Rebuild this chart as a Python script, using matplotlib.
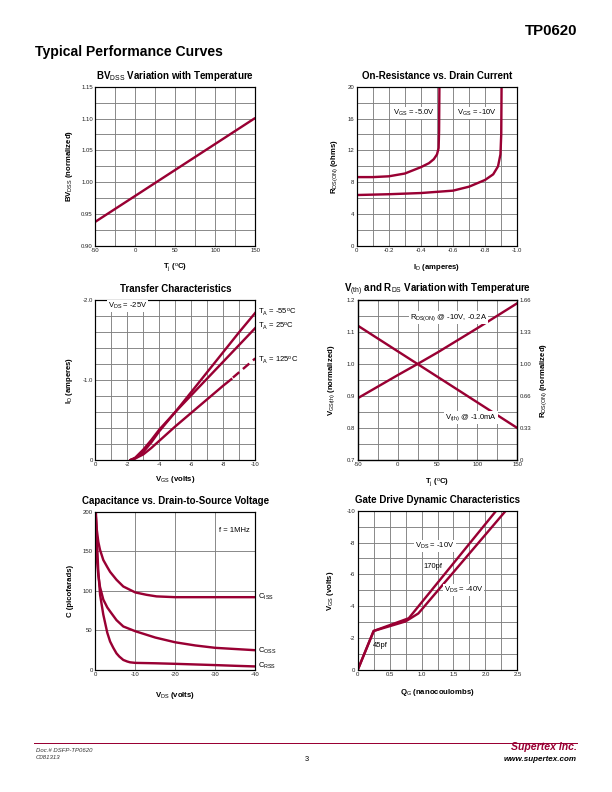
import matplotlib
matplotlib.use('Agg')
import matplotlib.pyplot as plt
import numpy as np

plt.rcParams['font.family'] = ['Liberation Sans', 'DejaVu Sans']
plt.rcParams['mathtext.fontset'] = 'custom'
plt.rcParams['mathtext.rm'] = 'Liberation Sans'
plt.rcParams['mathtext.it'] = 'Liberation Sans:italic'
plt.rcParams['mathtext.bf'] = 'Liberation Sans:bold'
plt.rcParams['mathtext.default'] = 'regular'

RED = '#990033'
GRID = '#808080'
LW = 2.4

# ---------------- data ----------------
# BVdss vs temperature
bv_temp = [-50, 150]
bv_norm = [0.938, 1.101]

# On-resistance vs drain current
ron_id_5v = [0, -0.1, -0.2, -0.3, -0.4, -0.45, -0.48, -0.5, -0.51, -0.513, -0.515]
ron_r_5v = [8.65, 8.65, 8.75, 9.1, 9.9, 10.4, 10.9, 11.5, 12.3, 14.5, 20]
ron_id_10v = [0, -0.2, -0.4, -0.6, -0.7, -0.8, -0.85, -0.88, -0.895, -0.9, -0.902]
ron_r_10v = [6.4, 6.5, 6.65, 6.95, 7.45, 8.3, 9.0, 10.0, 11.5, 14, 20]

# Transfer characteristics
tr_vgs = [-2.2, -2.5, -3, -3.5, -4, -5, -6, -7, -8, -9, -10]
tr_id_m55 = [0, -0.02, -0.1, -0.22, -0.36, -0.6, -0.85, -1.1, -1.35, -1.6, -1.84]
tr_id_25 = [0, -0.03, -0.13, -0.25, -0.38, -0.6, -0.81, -1.02, -1.23, -1.44, -1.65]
tr_vgs_125 = [-2.2, -2.5, -3, -3.5, -4, -4.5, -5, -6, -7, -8, -8.5]
tr_id_125 = [0, -0.02, -0.07, -0.15, -0.24, -0.33, -0.42, -0.59, -0.76, -0.93, -1.01]
tr_vgs_125_dash = [-8.6, -10]
tr_id_125_dash = [-1.03, -1.27]

# Vth and Rds vs temperature
vt_temp = [-50, 25, 150]
vt_norm = [1.12, 1.0, 0.80]
rds_temp = [-50, 0, 25, 50, 100, 150]
rds_norm = [0.893, 0.965, 1.0, 1.036, 1.112, 1.19]
rds_right_ticks = [0, 0.33, 0.66, 1.00, 1.33, 1.66]

# Capacitance vs VDS
ciss_v = [-0.05, -0.33, -0.75, -1.17, -2, -3, -3.7, -5.3, -7, -10, -12.8, -15.3, -20, -30, -40]
ciss_c = [200, 179, 162, 152, 139, 130, 124, 114, 105.5, 98, 95, 93, 92, 92, 92]
coss_v = [-0.1, -0.33, -0.75, -1.17, -2, -3, -3.7, -5.3, -7, -10, -15, -20, -25, -30, -35, -40]
coss_c = [200, 145, 120, 105, 89, 79, 74, 63, 55, 49, 41, 35, 31, 28, 26.5, 25]
crss_v = [-0.15, -0.4, -0.75, -1.2, -2, -3, -3.7, -4.5, -5.3, -6, -7, -8, -8.7, -10, -12,
          -15, -20, -25, -30, -35, -40]
crss_c = [200, 165, 124, 95, 70, 47, 36, 28, 21, 17, 12.7, 10.7, 9.7, 9, 8.8, 8.5, 7.8, 7,
          6.2, 5.3, 4.5]

# Gate drive
gd_q_10 = [0, 0.25, 0.8, 2.17]
gd_v_10 = [0, -2.45, -3.25, -10]
gd_q_40 = [0, 0.25, 0.75, 0.95, 2.32]
gd_v_40 = [0, -2.45, -3.05, -3.55, -10]

# ---------------- figure ----------------
fig = plt.figure(figsize=(8.5, 11), dpi=72)
W, H = 612.0, 792.0


def add_ax(l, t, r, b):
    return fig.add_axes([l / W, 1 - b / H, (r - l) / W, (b - t) / H])


TICK_FS = 6
LABEL_FS = 7.8
TITLE_FS = 9.7
TXT_FS = 7.6


def style(ax, xlim, ylim, xticks, yticks, xgrid, ygrid, xfmt, yfmt, title,
          xlabel, ylabel, xl_y, yl_x):
    ax.set_xlim(*xlim)
    ax.set_ylim(*ylim)
    ax.set_xticks(xgrid, minor=True)
    ax.set_yticks(ygrid, minor=True)
    ax.set_xticks(xticks)
    ax.set_yticks(yticks)
    ax.set_xticklabels([xfmt(v) for v in xticks])
    ax.set_yticklabels([yfmt(v) for v in yticks])
    ax.grid(True, which='both', color=GRID, lw=0.9)
    ax.set_axisbelow(True)
    ax.tick_params(which='both', length=0, labelsize=TICK_FS, pad=2.5,
                   labelcolor='#222222')
    for s in ax.spines.values():
        s.set_linewidth(1.2)
        s.set_color('black')
    ax.set_title(title, fontsize=TITLE_FS, fontweight='bold', pad=7.5)
    ax.set_xlabel(xlabel, fontsize=LABEL_FS, fontweight='bold')
    ax.set_ylabel(ylabel, fontsize=LABEL_FS, fontweight='bold', va='center', ha='center')
    ax.xaxis.set_label_coords(0.5, xl_y)
    ax.yaxis.set_label_coords(yl_x, 0.5)


BOX = dict(facecolor='white', edgecolor='none', pad=1.0)

# Panel 1
ax1 = add_ax(95.3, 86.7, 255.3, 246)
ax1.plot(bv_temp, bv_norm, color=RED, lw=LW, solid_capstyle='butt')
style(ax1, (-50, 150), (0.90, 1.15), [-50, 0, 50, 100, 150],
      [0.90, 0.95, 1.00, 1.05, 1.10, 1.15], np.arange(-50, 151, 25),
      np.arange(0.90, 1.151, 0.025), lambda v: f'{v:g}', lambda v: f'{v:.2f}',
      r'BV$_{\rm DSS}$ Variation with Temperature', r'T$_{\rm j}$ ($^{\rm o}$C)',
      r'BV$_{\rm DSS}$ (normalized)', -0.098, -0.1625)

# Panel 2
ax2 = add_ax(356.7, 86.7, 517.3, 246)
ax2.plot(ron_id_5v, ron_r_5v, color=RED, lw=LW)
ax2.plot(ron_id_10v, ron_r_10v, color=RED, lw=LW)
style(ax2, (0, -1.0), (0, 20), [0, -0.2, -0.4, -0.6, -0.8, -1.0],
      [0, 4, 8, 12, 16, 20], np.arange(0, -1.01, -0.1), np.arange(0, 20.1, 2),
      lambda v: '0' if v == 0 else f'{v:.1f}', lambda v: f'{v:g}',
      'On-Resistance vs. Drain Current', r'I$_{\rm D}$ (amperes)',
      r'R$_{\rm DS(ON)}$ (ohms)', -0.102, -0.135)
ax2.text(-0.355, 16.7, r'V$_{\rm GS}$ = -5.0V', fontsize=TXT_FS, ha='center', va='center', bbox=BOX)
ax2.text(-0.747, 16.7, r'V$_{\rm GS}$ = -10V', fontsize=TXT_FS, ha='center', va='center', bbox=BOX)

# Panel 3
ax3 = add_ax(95.3, 300, 255.3, 460)
ax3.plot(tr_vgs, tr_id_m55, color=RED, lw=LW)
ax3.plot(tr_vgs, tr_id_25, color=RED, lw=LW)
ax3.plot(tr_vgs_125, tr_id_125, color=RED, lw=LW)
ax3.plot(tr_vgs_125_dash, tr_id_125_dash, color=RED, lw=LW, ls=(0, (3.5, 2)))
style(ax3, (0, -10), (0, -2.0), [0, -2, -4, -6, -8, -10], [0, -1.0, -2.0],
      np.arange(0, -10.1, -1), np.arange(0, -2.01, -0.2),
      lambda v: f'{v:g}', lambda v: '0' if v == 0 else f'{v:.1f}',
      'Transfer Characteristics', r'V$_{\rm GS}$ (volts)', r'I$_{\rm D}$ (amperes)',
      -0.088, -0.1625)
ax3.text(-2.0, -1.92, r'V$_{\rm DS}$ = -25V', fontsize=TXT_FS, ha='center', va='center', bbox=BOX)
for yv, lab in [(-1.84, '-55'), (-1.675, '25'), (-1.25, '125')]:
    ax3.text(-10.15, yv, r'T$_{\rm A}$ = ' + lab + r'$^{\rm o}$C', fontsize=TXT_FS,
             ha='left', va='center', clip_on=False)

# Panel 4
ax4 = add_ax(357.7, 300, 517.3, 460)
ax4.plot(vt_temp, vt_norm, color=RED, lw=LW)
ax4.plot(rds_temp, rds_norm, color=RED, lw=LW)
style(ax4, (-50, 150), (0.7, 1.2), [-50, 0, 50, 100, 150],
      [0.7, 0.8, 0.9, 1.0, 1.1, 1.2], np.arange(-50, 151, 25),
      np.arange(0.7, 1.201, 0.05), lambda v: f'{v:g}', lambda v: f'{v:.1f}',
      r'V$_{\rm (th)}$ and R$_{\rm DS}$ Variation with Temperature',
      r'T$_{\rm j}$ ($^{\rm o}$C)', r'V$_{\rm GS(th)}$ (normalized)', -0.104, -0.163)
ax4r = ax4.twinx()
ax4r.set_ylim(0, 1.66)
ax4r.set_yticks(rds_right_ticks)
ax4r.set_yticklabels(['0', '0.33', '0.66', '1.00', '1.33', '1.66'])
ax4r.tick_params(length=0, labelsize=TICK_FS, pad=2.5, labelcolor='#222222')
for s in ax4r.spines.values():
    s.set_linewidth(1.2)
ax4r.set_ylabel(r'R$_{\rm DS(ON)}$ (normalized)', fontsize=LABEL_FS, fontweight='bold',
                va='center', ha='center', rotation=90)
ax4r.yaxis.set_label_coords(1.167, 0.5)
ax4.text(63.5, 1.145, r'R$_{\rm DS(ON)}$ @ -10V, -0.2A', fontsize=TXT_FS, ha='center',
         va='center', bbox=BOX)
ax4.text(91.7, 0.833, r'V$_{\rm (th)}$ @ -1.0mA', fontsize=TXT_FS, ha='center',
         va='center', bbox=BOX)

# Panel 5
ax5 = add_ax(95.3, 511.7, 255.3, 670)
ax5.plot(ciss_v, ciss_c, color=RED, lw=LW)
ax5.plot(coss_v, coss_c, color=RED, lw=LW)
ax5.plot(crss_v, crss_c, color=RED, lw=LW)
style(ax5, (0, -40), (0, 200), [0, -10, -20, -30, -40], [0, 50, 100, 150, 200],
      [0, -10, -20, -30, -40], [0, 50, 100, 150, 200],
      lambda v: f'{v:g}', lambda v: f'{v:g}',
      'Capacitance vs. Drain-to-Source Voltage', r'V$_{\rm DS}$ (volts)',
      'C (picofarads)', -0.126, -0.154)
ax5.text(-34.8, 176, 'f = 1MHz', fontsize=TXT_FS, ha='center', va='center')
for yv, lab in [(92, 'ISS'), (24, 'OSS'), (5.4, 'RSS')]:
    ax5.text(-40.8, yv, r'C$_{\rm ' + lab + '}$', fontsize=TXT_FS, ha='left',
             va='center', clip_on=False)

# Panel 6
ax6 = add_ax(357.7, 510.7, 517.3, 670)
ax6.plot(gd_q_10, gd_v_10, color=RED, lw=LW)
ax6.plot(gd_q_40, gd_v_40, color=RED, lw=LW)
style(ax6, (0, 2.5), (0, -10), [0, 0.5, 1.0, 1.5, 2.0, 2.5], [0, -2, -4, -6, -8, -10],
      np.arange(0, 2.51, 0.25), np.arange(0, -10.1, -1),
      lambda v: '0' if v == 0 else f'{v:.1f}', lambda v: f'{v:g}',
      'Gate Drive Dynamic Characteristics', r'Q$_{\rm G}$ (nanocoulombs)',
      r'V$_{\rm GS}$ (volts)', -0.109, -0.169)
ax6.text(1.21, -7.78, r'V$_{\rm DS}$ = -10V', fontsize=TXT_FS, ha='center', va='center', bbox=BOX)
ax6.text(1.18, -6.51, '170pf', fontsize=TXT_FS, ha='center', va='center')
ax6.text(1.66, -5.02, r'V$_{\rm DS}$ = -40V', fontsize=TXT_FS, ha='center', va='center', bbox=BOX)
ax6.text(0.36, -1.51, '45pf', fontsize=TXT_FS, ha='center', va='center')

# ---------------- page header / footer ----------------
fig.text(577 / W, 1 - 31 / H, 'TP0620', fontsize=15, fontweight='bold', ha='right', va='center')
fig.text(35 / W, 1 - 52 / H, 'Typical Performance Curves', fontsize=14, fontweight='bold',
         ha='left', va='center')
fig.add_artist(plt.Line2D([34 / W, 577 / W], [1 - 743 / H, 1 - 743 / H], color=RED, lw=1.0))
fig.text(36 / W, 1 - 750.5 / H, 'Doc.# DSFP-TP0620', fontsize=6, style='italic', ha='left',
         va='center', color='#333333')
fig.text(36 / W, 1 - 757.5 / H, 'C081313', fontsize=6, style='italic', ha='left',
         va='center', color='#333333')
fig.text(306.4 / W, 1 - 759.5 / H, '3', fontsize=7.5, ha='center', va='center')
fig.text(577 / W, 1 - 747.5 / H, 'Supertex inc.', fontsize=10.5, fontweight='bold',
         style='italic', ha='right', va='center', color=RED)
fig.text(577 / W, 1 - 759.7 / H, 'www.supertex.com', fontsize=8, fontweight='bold',
         style='italic', ha='right', va='center')

fig.savefig('out.png', dpi=72)
